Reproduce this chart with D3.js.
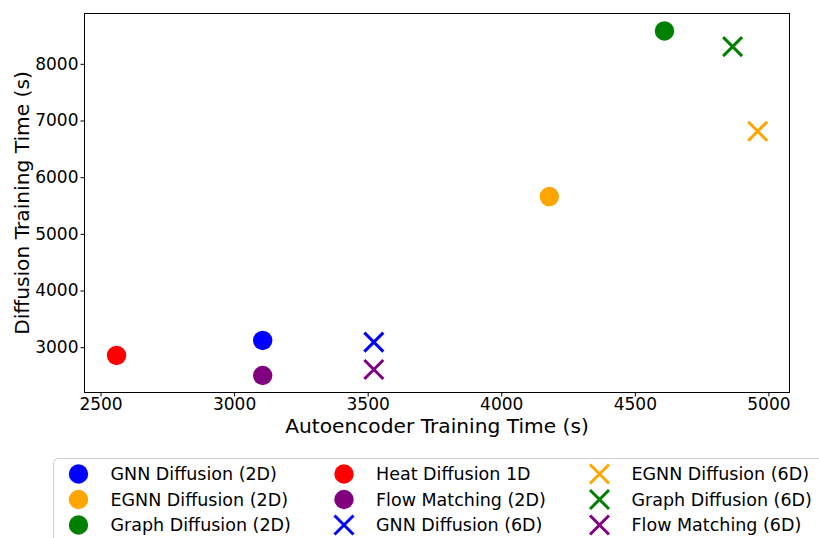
<!DOCTYPE html>
<html>
<head>
<meta charset="utf-8">
<script src="https://cdn.jsdelivr.net/npm/d3@7"></script>
<style>
  body { margin: 0; background: #fff; }
  svg { display: block; font-family: "DejaVu Sans", sans-serif; }
</style>
</head>
<body>
<svg id="chart" width="819" height="538"></svg>
<script>
// series, in legend order (column by column)
const names = ["GNN Diffusion (2D)", "EGNN Diffusion (2D)", "Graph Diffusion (2D)",
  "Heat Diffusion 1D", "Flow Matching (2D)", "GNN Diffusion (6D)",
  "EGNN Diffusion (6D)", "Graph Diffusion (6D)", "Flow Matching (6D)"]
const colors = ["blue", "orange", "green", "red", "purple", "blue", "orange", "green", "purple"]
const shapes = ["o", "o", "o", "o", "o", "x", "x", "x", "x"]
const aeTime = [3107, 4180, 4611, 2560, 3107, 3523, 4960, 4866, 3523]
const diffTime = [3118, 5658, 8580, 2854, 2500, 3088, 6810, 8303, 2607]

const xTicks = [2500, 3000, 3500, 4000, 4500, 5000]
const yTicks = [3000, 4000, 5000, 6000, 7000, 8000]

const plotL = 84.5, plotR = 789.5, plotT = 13.5, plotB = 392.5

const svg = d3.select('#chart')

let x = d3.scaleLinear().domain([2440, 5079]).range([plotL, plotR])
let y = d3.scaleLinear().domain([2200, 8888]).range([plotB, plotT])

// axes
let xAxis = svg.append('g')
  .attr('transform', `translate(0,${plotB})`)
  .call(d3.axisBottom(x).tickValues(xTicks).tickFormat(d3.format('d')).tickSizeOuter(0).tickSize(4).tickPadding(1))
let yAxis = svg.append('g')
  .attr('transform', `translate(${plotL},0)`)
  .call(d3.axisLeft(y).tickValues(yTicks).tickFormat(d3.format('d')).tickSizeOuter(0).tickSize(4).tickPadding(2))

for (const ax of [xAxis, yAxis]) {
  ax.select('.domain').remove()
  ax.selectAll('line').attr('stroke', '#000').attr('stroke-width', 1)
  ax.selectAll('text').attr('fill', '#000').style('font-size', '17px').style('font-family', '"DejaVu Sans"')
}

// frame
svg.append('rect')
  .attr('x', plotL).attr('y', plotT)
  .attr('width', plotR - plotL).attr('height', plotB - plotT)
  .attr('fill', 'none').attr('stroke', '#000').attr('stroke-width', 1)

// axis titles
svg.append('text')
  .attr('x', (plotL + plotR) / 2).attr('y', 433)
  .attr('text-anchor', 'middle')
  .style('font-size', '20.2px')
  .text('Autoencoder Training Time (s)')

svg.append('text')
  .attr('transform', `translate(29,${(plotT + plotB) / 2}) rotate(-90)`)
  .attr('text-anchor', 'middle')
  .style('font-size', '20.2px')
  .text('Diffusion Training Time (s)')

function drawMarker(g, shape, color) {
  if (shape == "o") {
    g.append('circle').attr('r', 9.7).attr('fill', color)
  } else {
    const h = 9.5
    g.append('path')
      .attr('d', `M${-h},${-h}L${h},${h}M${-h},${h}L${h},${-h}`)
      .attr('stroke', color).attr('stroke-width', 3).attr('fill', 'none')
  }
}

// points
const pts = svg.append('g')
for (let i = 0; i < names.length; i++) {
  let g = pts.append('g').attr('transform', `translate(${x(aeTime[i])},${y(diffTime[i])})`)
  drawMarker(g, shapes[i], colors[i])
}

// legend
const legend = svg.append('g')
legend.append('rect')
  .attr('x', 53.5).attr('y', 458.5)
  .attr('width', 800).attr('height', 110)
  .attr('rx', 4)
  .attr('fill', '#fff').attr('stroke', '#d0d0d0').attr('stroke-width', 1)

const colX = [78.5, 344, 599.5]
const rowY = [474, 499.5, 525]
for (let i = 0; i < names.length; i++) {
  let c = Math.floor(i / 3), r = i % 3
  let g = legend.append('g').attr('transform', `translate(${colX[c]},${rowY[r]})`)
  drawMarker(g, shapes[i], colors[i])
  legend.append('text')
    .attr('x', colX[c] + 32).attr('y', rowY[r])
    .attr('dy', '0.36em')
    .style('font-size', '17.5px')
    .attr('fill', '#000')
    .text(names[i])
}
</script>
</body>
</html>
